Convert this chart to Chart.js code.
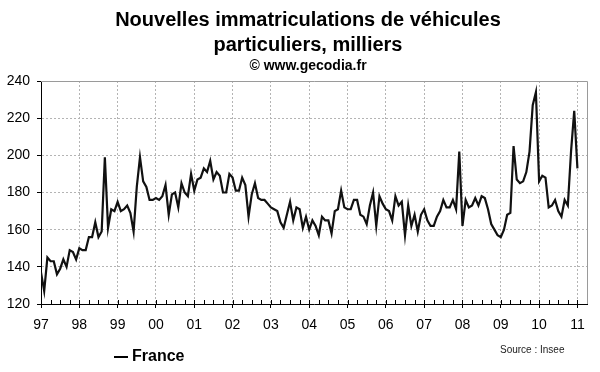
<!DOCTYPE html>
<html>
<head>
<meta charset="utf-8">
<style>
html,body{margin:0;padding:0;background:#fff;}
#wrap{width:600px;height:372px;position:relative;}
</style>
<script src="https://cdn.jsdelivr.net/npm/chart.js@4.4.0/dist/chart.umd.min.js"></script>
</head>
<body>
<div id="wrap"><canvas id="c" width="600" height="372"></canvas></div>
<script>
// ---- Text ----
const titleLines = ["Nouvelles immatriculations de véhicules", "particuliers, milliers"];
const subtitleText = "© www.gecodia.fr";
const seriesName = "France";
const sourceText = "Source : Insee";

// ---- Tick labels (one per January) ----
const yearLabels = ["97","98","99","00","01","02","03","04","05","06","07","08","09","10","11"];
const yTicks = [120, 140, 160, 180, 200, 220, 240];

// ---- Monthly values, thousands (Jan..Dec) ----
const y1997 = [137, 127, 145, 143, 143, 136, 139, 144, 140, 149, 148, 144];
const y1998 = [150, 149, 149, 156, 156, 164, 156, 159, 199, 161, 171, 170];
const y1999 = [175, 170, 171, 173, 169, 159, 183, 199, 186, 183, 176, 176];
const y2000 = [177, 176, 178, 184, 168, 179, 180, 172, 185, 180, 178, 190];
const y2001 = [181, 187, 188, 193, 191, 197, 187, 191, 189, 180, 180, 190];
const y2002 = [188, 181, 181, 188, 184, 167, 179, 185, 177, 176, 176, 174];
const y2003 = [172, 171, 170, 164, 161, 168, 175, 165, 172, 171, 161, 167];
const y2004 = [160, 165, 162, 157, 167, 165, 165, 158, 170, 171, 181, 172];
const y2005 = [171, 171, 176, 176, 168, 167, 163, 173, 180, 162, 178, 174];
const y2006 = [171, 170, 165, 178, 173, 175, 157, 173, 162, 168, 159, 168];
const y2007 = [171, 165, 162, 162, 167, 170, 176, 172, 172, 176, 171, 202];
const y2008 = [162, 176, 172, 173, 177, 173, 178, 177, 171, 163, 160, 157];
const y2009 = [156, 160, 168, 169, 205, 187, 185, 186, 191, 202, 227, 234];
const y2010 = [186, 189, 188, 172, 173, 176, 170, 167, 176, 173, 202, 224];
const y2011 = [193];

const monthly = [].concat(y1997, y1998, y1999, y2000, y2001, y2002, y2003,
  y2004, y2005, y2006, y2007, y2008, y2009, y2010, y2011);
const points = monthly.map((v, i) => ({x: i, y: v}));

const FONT = "'Liberation Sans', Arial, Helvetica, sans-serif";
const GRID = '#b4b4b4';

const decorPlugin = {
  id: 'decor',
  beforeDatasetsDraw(chart) {
    const {ctx, chartArea: a, scales} = chart;
    ctx.save();
    ctx.strokeStyle = '#9a9a9a';
    ctx.lineWidth = 1;
    ctx.setLineDash([]);
    ctx.beginPath();
    ctx.moveTo(a.left, Math.round(a.top) + 0.5);
    ctx.lineTo(Math.round(a.right) + 0.5, Math.round(a.top) + 0.5);
    ctx.lineTo(Math.round(a.right) + 0.5, a.bottom);
    ctx.stroke();
    ctx.strokeStyle = '#000';
    const xs = scales.x;
    xs.ticks.forEach(t => {
      const px = Math.round(xs.getPixelForValue(t.value)) + 0.5;
      ctx.beginPath();
      ctx.moveTo(px, a.bottom);
      ctx.lineTo(px, a.bottom - 4);
      ctx.stroke();
    });
    ctx.restore();
  },
  afterDraw(chart) {
    const {ctx} = chart;
    ctx.save();
    ctx.strokeStyle = '#000';
    ctx.lineWidth = 2;
    ctx.beginPath();
    ctx.moveTo(114, 357);
    ctx.lineTo(128, 357);
    ctx.stroke();
    ctx.fillStyle = '#000';
    ctx.font = "bold 16px " + FONT;
    ctx.textBaseline = 'middle';
    ctx.textAlign = 'left';
    ctx.fillText(seriesName, 132, 357);
    ctx.font = "10px " + FONT;
    ctx.fillStyle = '#222';
    ctx.fillText(sourceText, 500, 350);
    ctx.restore();
  }
};

new Chart(document.getElementById('c'), {
  type: 'line',
  data: {
    datasets: [{
      label: seriesName,
      data: points,
      borderColor: '#111',
      borderWidth: 2.2,
      pointRadius: 0,
      tension: 0,
      fill: false
    }]
  },
  options: {
    responsive: false,
    animation: false,
    layout: { padding: { left: 0, right: -16, top: 0, bottom: 0 } },
    plugins: {
      legend: { display: false },
      tooltip: { enabled: false },
      title: {
        display: true,
        text: titleLines,
        color: '#000',
        font: { family: FONT, size: 20, weight: 'bold', lineHeight: '25px' },
        padding: { top: 8, bottom: 0 }
      },
      subtitle: {
        display: true,
        text: subtitleText,
        color: '#000',
        font: { family: FONT, size: 14, weight: 'bold', lineHeight: '16px' },
        padding: { top: 0, bottom: 7 }
      }
    },
    scales: {
      x: {
        type: 'linear',
        min: 0,
        max: 171,
        afterBuildTicks(scale) {
          const t = [];
          for (let v = 0; v <= (yearLabels.length - 1) * 12; v += 3) t.push({value: v});
          scale.ticks = t;
        },
        afterFit(scale) { scale.height = 68; },
        ticks: {
          autoSkip: false,
          maxRotation: 0,
          color: '#000',
          padding: 9,
          font: { family: FONT, size: 14 },
          callback: (v) => (v % 12 === 0 ? yearLabels[v / 12] : '')
        },
        grid: {
          color: (c) => (c.tick && c.tick.value % 12 === 0 && c.tick.value > 0 ? GRID : 'rgba(0,0,0,0)'),
          tickColor: (c) => (c.tick && c.tick.value % 12 === 0 ? '#000' : 'rgba(0,0,0,0)'),
          tickLength: 4,
          lineWidth: 1
        },
        border: { display: true, color: '#000', width: 1, dash: [2, 2] }
      },
      y: {
        position: 'left',
        min: 120,
        max: 240,
        afterBuildTicks(scale) { scale.ticks = yTicks.map(v => ({value: v})); },
        afterFit(scale) { scale.width = 41; },
        ticks: {
          color: '#000',
          padding: 7,
          font: { family: FONT, size: 14 }
        },
        grid: {
          color: (c) => (c.tick && c.tick.value > 120 && c.tick.value < 240 ? GRID : 'rgba(0,0,0,0)'),
          tickColor: '#000',
          tickLength: 4,
          lineWidth: 1
        },
        border: { display: true, color: '#000', width: 1, dash: [2, 2] }
      },
      yRightSpace: {
        type: 'linear',
        position: 'right',
        min: 0,
        max: 1,
        display: true,
        afterFit(scale) { scale.width = 29; },
        ticks: { display: false },
        grid: { display: false, drawTicks: false },
        border: { display: false }
      }
    }
  },
  plugins: [decorPlugin]
});
</script>
</body>
</html>
